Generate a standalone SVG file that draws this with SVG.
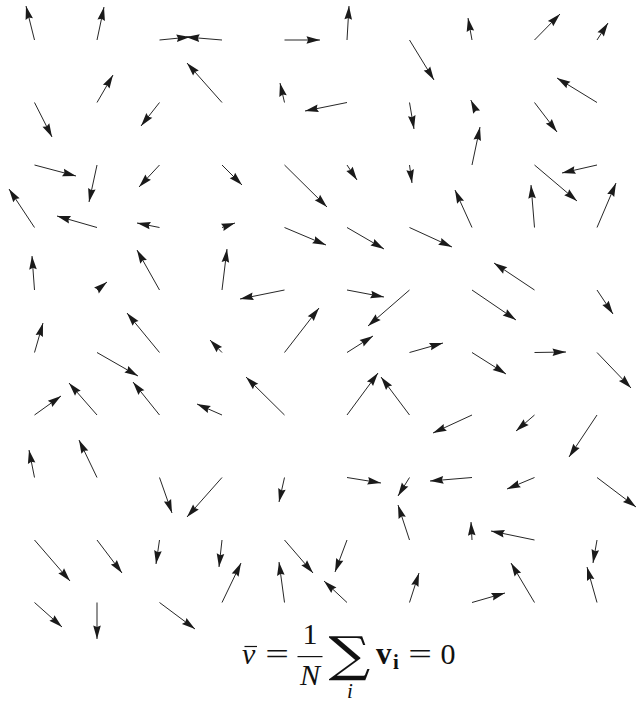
<svg xmlns="http://www.w3.org/2000/svg" width="636" height="704" viewBox="0 0 636 704">
<defs>
<marker id="ah" markerUnits="userSpaceOnUse" viewBox="-1 -5 16 10" markerWidth="16" markerHeight="10" refX="13.5" refY="0" orient="auto" overflow="visible">
<path d="M0,-3.8 L13.5,0 L0,3.8 L1.6,0 Z" fill="#1a1a1a"/>
</marker>
<style>
.f line{stroke:#1a1a1a;stroke-width:0.95;marker-end:url(#ah)}
.m{font-family:"Liberation Serif","Times New Roman",serif;font-size:30px;fill:#111}
.it{font-style:italic}
.bf{font-weight:bold}
</style>
</defs>
<rect width="636" height="704" fill="#fff"/>
<g id="connectors" class="f">
<line x1="34.5" y1="40" x2="26" y2="6"/>
<line x1="97" y1="40" x2="104" y2="7"/>
<line x1="159.5" y1="40" x2="190" y2="37"/>
<line x1="222" y1="40" x2="186" y2="37"/>
<line x1="284.5" y1="40" x2="320" y2="40"/>
<line x1="347" y1="40" x2="349" y2="6"/>
<line x1="409.5" y1="40" x2="434" y2="80"/>
<line x1="472" y1="40" x2="468" y2="18"/>
<line x1="534.5" y1="40" x2="560" y2="14"/>
<line x1="597" y1="40" x2="608" y2="23"/>

<line x1="34.5" y1="102.5" x2="52" y2="137"/>
<line x1="97" y1="102.5" x2="113" y2="75"/>
<line x1="159.5" y1="102.5" x2="141" y2="126"/>
<line x1="222" y1="102.5" x2="187" y2="63"/>
<line x1="284.5" y1="102.5" x2="280" y2="83"/>
<line x1="347" y1="102.5" x2="305" y2="111"/>
<line x1="409.5" y1="102.5" x2="414" y2="129"/>
<line x1="472" y1="102.5" x2="470.8" y2="100"/>
<line x1="534.5" y1="102.5" x2="557" y2="132"/>
<line x1="597" y1="102.5" x2="557" y2="78"/>

<line x1="34.5" y1="165" x2="76" y2="176"/>
<line x1="97" y1="165" x2="89" y2="202"/>
<line x1="159.5" y1="165" x2="139" y2="187"/>
<line x1="222" y1="165" x2="242" y2="185"/>
<line x1="284.5" y1="165" x2="327" y2="207"/>
<line x1="347" y1="165" x2="357" y2="180"/>
<line x1="409.5" y1="165" x2="412" y2="183"/>
<line x1="472" y1="165" x2="480" y2="127"/>
<line x1="534.5" y1="165" x2="577" y2="201"/>
<line x1="597" y1="165" x2="562" y2="173"/>

<line x1="34.5" y1="227.5" x2="9" y2="189"/>
<line x1="97" y1="227.5" x2="57" y2="216"/>
<line x1="159.5" y1="227.5" x2="137" y2="223"/>
<line x1="222" y1="227.5" x2="235" y2="223"/>
<line x1="284.5" y1="227.5" x2="326" y2="245"/>
<line x1="347" y1="227.5" x2="384" y2="249"/>
<line x1="409.5" y1="227.5" x2="452" y2="247"/>
<line x1="472" y1="227.5" x2="455" y2="190"/>
<line x1="534.5" y1="227.5" x2="531" y2="185"/>
<line x1="597" y1="227.5" x2="616" y2="183"/>

<line x1="34.5" y1="290" x2="32" y2="256"/>
<line x1="97" y1="290" x2="107" y2="282"/>
<line x1="159.5" y1="290" x2="137" y2="250"/>
<line x1="222" y1="290" x2="227" y2="249"/>
<line x1="284.5" y1="290" x2="240" y2="299"/>
<line x1="347" y1="290" x2="384" y2="297"/>
<line x1="409.5" y1="290" x2="368" y2="326"/>
<line x1="472" y1="290" x2="516" y2="320"/>
<line x1="534.5" y1="290" x2="494" y2="263"/>
<line x1="597" y1="290" x2="613" y2="314"/>

<line x1="34.5" y1="352.5" x2="43" y2="323"/>
<line x1="97" y1="352.5" x2="138" y2="376"/>
<line x1="159.5" y1="352.5" x2="127" y2="313"/>
<line x1="222" y1="352.5" x2="210" y2="340"/>
<line x1="284.5" y1="352.5" x2="319" y2="308"/>
<line x1="347" y1="352.5" x2="373" y2="336"/>
<line x1="409.5" y1="352.5" x2="443" y2="343"/>
<line x1="472" y1="352.5" x2="506" y2="374"/>
<line x1="534.5" y1="352.5" x2="566" y2="352"/>
<line x1="597" y1="352.5" x2="631" y2="388"/>

<line x1="34.5" y1="415" x2="61" y2="396"/>
<line x1="97" y1="415" x2="69" y2="383"/>
<line x1="159.5" y1="415" x2="133" y2="382"/>
<line x1="222" y1="415" x2="197" y2="404"/>
<line x1="284.5" y1="415" x2="246" y2="377"/>
<line x1="347" y1="415" x2="378" y2="373"/>
<line x1="409.5" y1="415" x2="381" y2="377"/>
<line x1="472" y1="415" x2="433" y2="433"/>
<line x1="534.5" y1="415" x2="516" y2="431"/>
<line x1="597" y1="415" x2="569" y2="457"/>

<line x1="34.5" y1="477.5" x2="29" y2="450"/>
<line x1="97" y1="477.5" x2="79" y2="440"/>
<line x1="159.5" y1="477.5" x2="172" y2="513"/>
<line x1="222" y1="477.5" x2="187" y2="517"/>
<line x1="284.5" y1="477.5" x2="279" y2="502"/>
<line x1="347" y1="477.5" x2="381" y2="483"/>
<line x1="409.5" y1="477.5" x2="398" y2="496"/>
<line x1="472" y1="477.5" x2="430" y2="481"/>
<line x1="534.5" y1="477.5" x2="507" y2="489"/>
<line x1="597" y1="477.5" x2="636" y2="507"/>

<line x1="34.5" y1="540" x2="70" y2="581"/>
<line x1="97" y1="540" x2="122" y2="573"/>
<line x1="159.5" y1="540" x2="156" y2="564"/>
<line x1="222" y1="540" x2="219" y2="567"/>
<line x1="284.5" y1="540" x2="313" y2="573"/>
<line x1="347" y1="540" x2="335" y2="572"/>
<line x1="409.5" y1="540" x2="398" y2="505"/>
<line x1="472" y1="540" x2="471" y2="522"/>
<line x1="534.5" y1="540" x2="491" y2="531"/>
<line x1="597" y1="540" x2="593" y2="563"/>

<line x1="34.5" y1="602.5" x2="62" y2="627"/>
<line x1="97" y1="602.5" x2="97" y2="639"/>
<line x1="159.5" y1="602.5" x2="195" y2="629"/>
<line x1="222" y1="602.5" x2="241" y2="563"/>
<line x1="284.5" y1="602.5" x2="279" y2="562"/>
<line x1="347" y1="602.5" x2="324" y2="581"/>
<line x1="409.5" y1="602.5" x2="419" y2="573"/>
<line x1="472" y1="602.5" x2="505" y2="593"/>
<line x1="534.5" y1="602.5" x2="511" y2="563"/>
<line x1="597" y1="602.5" x2="587" y2="567"/>
</g>
<g id="formula" class="m">
<text x="242" y="664" class="it">v</text>
<line x1="244.5" y1="646.5" x2="257" y2="646.5" stroke="#111" stroke-width="1.2"/>
<text transform="translate(277,664) scale(1.4,1)" text-anchor="middle">=</text>
<text x="310" y="643.5" text-anchor="middle">1</text>
<rect x="297.5" y="656" width="25" height="1.2" fill="#111"/>
<text x="310" y="684.5" text-anchor="middle" class="it">N</text>
<text transform="translate(349.5,671) scale(1.22,1)" text-anchor="middle" style="font-family:'DejaVu Serif',serif;font-size:48px">∑</text>
<text x="350" y="698" text-anchor="middle" class="it" style="font-size:21px">i</text>
<text x="376" y="664" class="bf" style="font-size:31px">v</text>
<text x="393" y="668.5" class="bf" style="font-size:21px">i</text>
<text transform="translate(420,664) scale(1.4,1)" text-anchor="middle">=</text>
<text x="448" y="664" text-anchor="middle">0</text>
</g>
</svg>
